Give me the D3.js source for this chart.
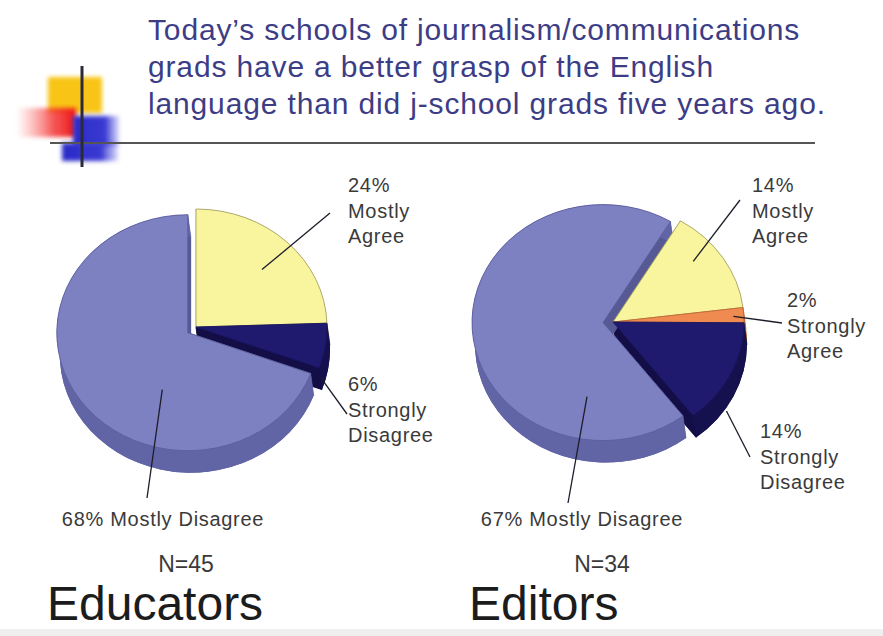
<!DOCTYPE html>
<html>
<head>
<meta charset="utf-8">
<script src="https://cdn.jsdelivr.net/npm/d3@7"></script>
<style>
  html, body { margin: 0; padding: 0; background: #ffffff; }
  svg { display: block; }
  text { font-family: "Liberation Sans", Arial, Helvetica, sans-serif; }
</style>
</head>
<body>
<svg id="chart" width="883" height="636"></svg>
<script>
// ---- data ----
const titleLines = [
  "Today\u2019s schools of journalism/communications",
  "grads have a better grasp of the English",
  "language than did j-school grads five years ago."
];
const educatorCategories = ["Mostly Agree", "Strongly Disagree", "Mostly Disagree"];
const educatorValues = [24, 6, 68];
const educatorN = 45;
const editorCategories = ["Mostly Agree", "Strongly Agree", "Strongly Disagree", "Mostly Disagree"];
const editorValues = [14, 2, 14, 67];
const editorN = 34;
const groupNames = ["Educators", "Editors"];

// ---- styling ----
const palette = d3.scaleOrdinal()
  .domain(["Mostly Agree", "Strongly Agree", "Strongly Disagree", "Mostly Disagree"])
  .range(["#f9f59e", "#ef8a50", "#1f1a6e", "#7d81c1"]);
const sidePalette = d3.scaleOrdinal()
  .domain(["Mostly Agree", "Strongly Agree", "Strongly Disagree", "Mostly Disagree"])
  .range(["#c4bf74", "#b8622f", "#15114f", "#6165a6"]);
const edgePalette = d3.scaleOrdinal()
  .domain(["Mostly Agree", "Strongly Agree", "Strongly Disagree", "Mostly Disagree"])
  .range(["#a8a466", "#c06a38", "#1a1660", "#5b5f9e"]);

const svg = d3.select("#chart");
const defs = svg.append("defs");
defs.append("filter").attr("id", "soft").attr("x", "-30%").attr("y", "-30%").attr("width", "160%").attr("height", "160%")
  .append("feGaussianBlur").attr("stdDeviation", 2.2);
const redGrad = defs.append("linearGradient").attr("id", "redFade").attr("x1", 0).attr("x2", 1).attr("y1", 0).attr("y2", 0);
redGrad.append("stop").attr("offset", 0).attr("stop-color", "#ff6a6a").attr("stop-opacity", 0.05);
redGrad.append("stop").attr("offset", 0.6).attr("stop-color", "#f43030").attr("stop-opacity", 0.8);
redGrad.append("stop").attr("offset", 1).attr("stop-color", "#ee1515").attr("stop-opacity", 1);
const blueGrad = defs.append("linearGradient").attr("id", "blueFade").attr("x1", 0).attr("x2", 1).attr("y1", 0).attr("y2", 0);
blueGrad.append("stop").attr("offset", 0).attr("stop-color", "#2a2ac8").attr("stop-opacity", 1);
blueGrad.append("stop").attr("offset", 0.7).attr("stop-color", "#3030d0").attr("stop-opacity", 0.95);
blueGrad.append("stop").attr("offset", 1).attr("stop-color", "#5050e0").attr("stop-opacity", 0.2);

// ---- decorative corner mark ----
const mark = svg.append("g");
mark.append("rect").attr("x", 48).attr("y", 77).attr("width", 54).attr("height", 36)
  .attr("fill", "#f8c418").attr("filter", "url(#soft)");
mark.append("rect").attr("x", 18).attr("y", 108).attr("width", 58).attr("height", 29)
  .attr("fill", "url(#redFade)").attr("filter", "url(#soft)");
mark.append("rect").attr("x", 73).attr("y", 116).attr("width", 46).attr("height", 30)
  .attr("fill", "url(#blueFade)").attr("filter", "url(#soft)");
mark.append("rect").attr("x", 62).attr("y", 143).attr("width", 56).attr("height", 18)
  .attr("fill", "url(#blueFade)").attr("filter", "url(#soft)");
mark.append("line").attr("x1", 50).attr("x2", 815).attr("y1", 143).attr("y2", 143)
  .attr("stroke", "#555").attr("stroke-width", 2.2);
mark.append("line").attr("x1", 82).attr("x2", 82).attr("y1", 66).attr("y2", 167)
  .attr("stroke", "#2a2a3a").attr("stroke-width", 3);

// ---- title ----
svg.append("g").selectAll("text").data(titleLines).join("text")
  .attr("x", 148).attr("y", (d, i) => 40 + i * 37)
  .attr("font-size", 30).attr("letter-spacing", 0.85).attr("fill", "#3d3d86")
  .text(d => d);

// ---- 3D pies ----
const rx = 131, ry = 118;
const ext = [3, 22];         // extrusion of the pie body
const explodeBy = 10;
const labelFont = 20, labelSpacing = 0.7, labelColor = "#3a3a3a";

function pt(cx, cy, a, f) {
  return [cx + rx * f * Math.sin(a), cy - ry * f * Math.cos(a)];
}

function drawPie(cfg) {
  const data = cfg.categories.map((c, i) => ({ category: c, value: cfg.values[i] }));
  const arcs = d3.pie().sort(null).value(d => d.value)
    .startAngle(cfg.start).endAngle(cfg.start + 2 * Math.PI)(data);

  arcs.forEach(a => {
    const mid = (a.startAngle + a.endAngle) / 2;
    const off = a.data.category === cfg.exploded ? explodeBy : 0;
    a.cx = cfg.cx + off * Math.sin(mid);
    a.cy = cfg.cy - off * Math.cos(mid);
    a.p0 = pt(a.cx, a.cy, a.startAngle, 1);
    a.p1 = pt(a.cx, a.cy, a.endAngle, 1);
    a.large = (a.endAngle - a.startAngle) > Math.PI ? 1 : 0;
  });

  const g = svg.append("g");
  const sh = p => [p[0] + ext[0], p[1] + ext[1]];

  // body: bottom faces, radial walls, outer walls
  const body = g.append("g");
  arcs.forEach(a => {
    const c = [a.cx, a.cy], cB = sh(c), p0B = sh(a.p0), p1B = sh(a.p1);
    const side = sidePalette(a.data.category);
    body.append("path")
      .attr("d", `M${cB}L${p0B}A${rx},${ry} 0 ${a.large} 1 ${p1B}Z`)
      .attr("fill", side);
    [[a.p0, p0B], [a.p1, p1B]].forEach(([p, pB]) => {
      body.append("path")
        .attr("d", `M${c}L${p}L${pB}L${cB}Z`)
        .attr("fill", d3.color(side).darker(0.35))
        .attr("stroke", d3.color(side).darker(0.35)).attr("stroke-width", 0.5);
    });
    body.append("path")
      .attr("d", `M${a.p0}A${rx},${ry} 0 ${a.large} 1 ${a.p1}L${p1B}A${rx},${ry} 0 ${a.large} 0 ${p0B}Z`)
      .attr("fill", side);
  });

  // top faces
  g.append("g").selectAll("path").data(arcs).join("path")
    .attr("d", a => `M${a.cx},${a.cy}L${a.p0}A${rx},${ry} 0 ${a.large} 1 ${a.p1}Z`)
    .attr("fill", a => palette(a.data.category))
    .attr("stroke", a => edgePalette(a.data.category))
    .attr("stroke-width", 0.9).attr("stroke-linejoin", "round");

  // leader lines and labels
  const lab = g.append("g");
  arcs.forEach(a => {
    const L = cfg.labels[a.data.category];
    const s = pt(a.cx, a.cy, L.angle * Math.PI / 180, L.f);
    s[1] += L.dy || 0;
    lab.append("line")
      .attr("x1", s[0]).attr("y1", s[1]).attr("x2", L.end[0]).attr("y2", L.end[1])
      .attr("stroke", "#1d1d2a").attr("stroke-width", 1.3);
    const lines = L.inline
      ? [`${a.data.value}% ${a.data.category}`]
      : [`${a.data.value}%`].concat(a.data.category.split(" "));
    lab.append("g").selectAll("text").data(lines).join("text")
      .attr("x", L.x).attr("y", (d, i) => L.y + i * 25.5)
      .attr("text-anchor", L.anchor || "start")
      .attr("font-size", labelFont).attr("letter-spacing", labelSpacing).attr("fill", labelColor)
      .text(d => d);
  });

  svg.append("text").attr("x", cfg.nx).attr("y", 572).attr("text-anchor", "middle")
    .attr("font-size", 23).attr("fill", labelColor).text(`N=${cfg.n}`);
  svg.append("text").attr("x", cfg.gx).attr("y", 620)
    .attr("font-size", 48).attr("fill", "#1c1c1c").text(cfg.name);
}

drawPie({
  name: groupNames[0], n: educatorN,
  categories: educatorCategories, values: educatorValues,
  cx: 196, cy: 327, start: 0, exploded: "Mostly Disagree",
  nx: 186, gx: 47,
  labels: {
    "Mostly Agree": { angle: 46, f: 0.7, end: [330, 213], x: 348, y: 192 },
    "Strongly Disagree": { angle: 108, f: 1, dy: 14, end: [347, 414], x: 348, y: 391 },
    "Mostly Disagree": { angle: 202, f: 0.52, end: [147, 498], x: 163, y: 526, anchor: "middle", inline: true }
  }
});

drawPie({
  name: groupNames[1], n: editorN,
  categories: editorCategories, values: editorValues,
  cx: 613, cy: 322, start: 31 * Math.PI / 180, exploded: "Mostly Disagree",
  nx: 602, gx: 469,
  labels: {
    "Mostly Agree": { angle: 50, f: 0.8, end: [740, 200], x: 752, y: 192 },
    "Strongly Agree": { angle: 87, f: 0.92, end: [782, 323], x: 787, y: 307 },
    "Strongly Disagree": { angle: 120, f: 1, dy: 30, end: [750, 457], x: 760, y: 438 },
    "Mostly Disagree": { angle: 191, f: 0.64, end: [568, 503], x: 582, y: 526, anchor: "middle", inline: true }
  }
});

// faint strip along the bottom edge
svg.append("rect").attr("x", 0).attr("y", 629).attr("width", 883).attr("height", 7).attr("fill", "#efefef");
</script>
</body>
</html>
